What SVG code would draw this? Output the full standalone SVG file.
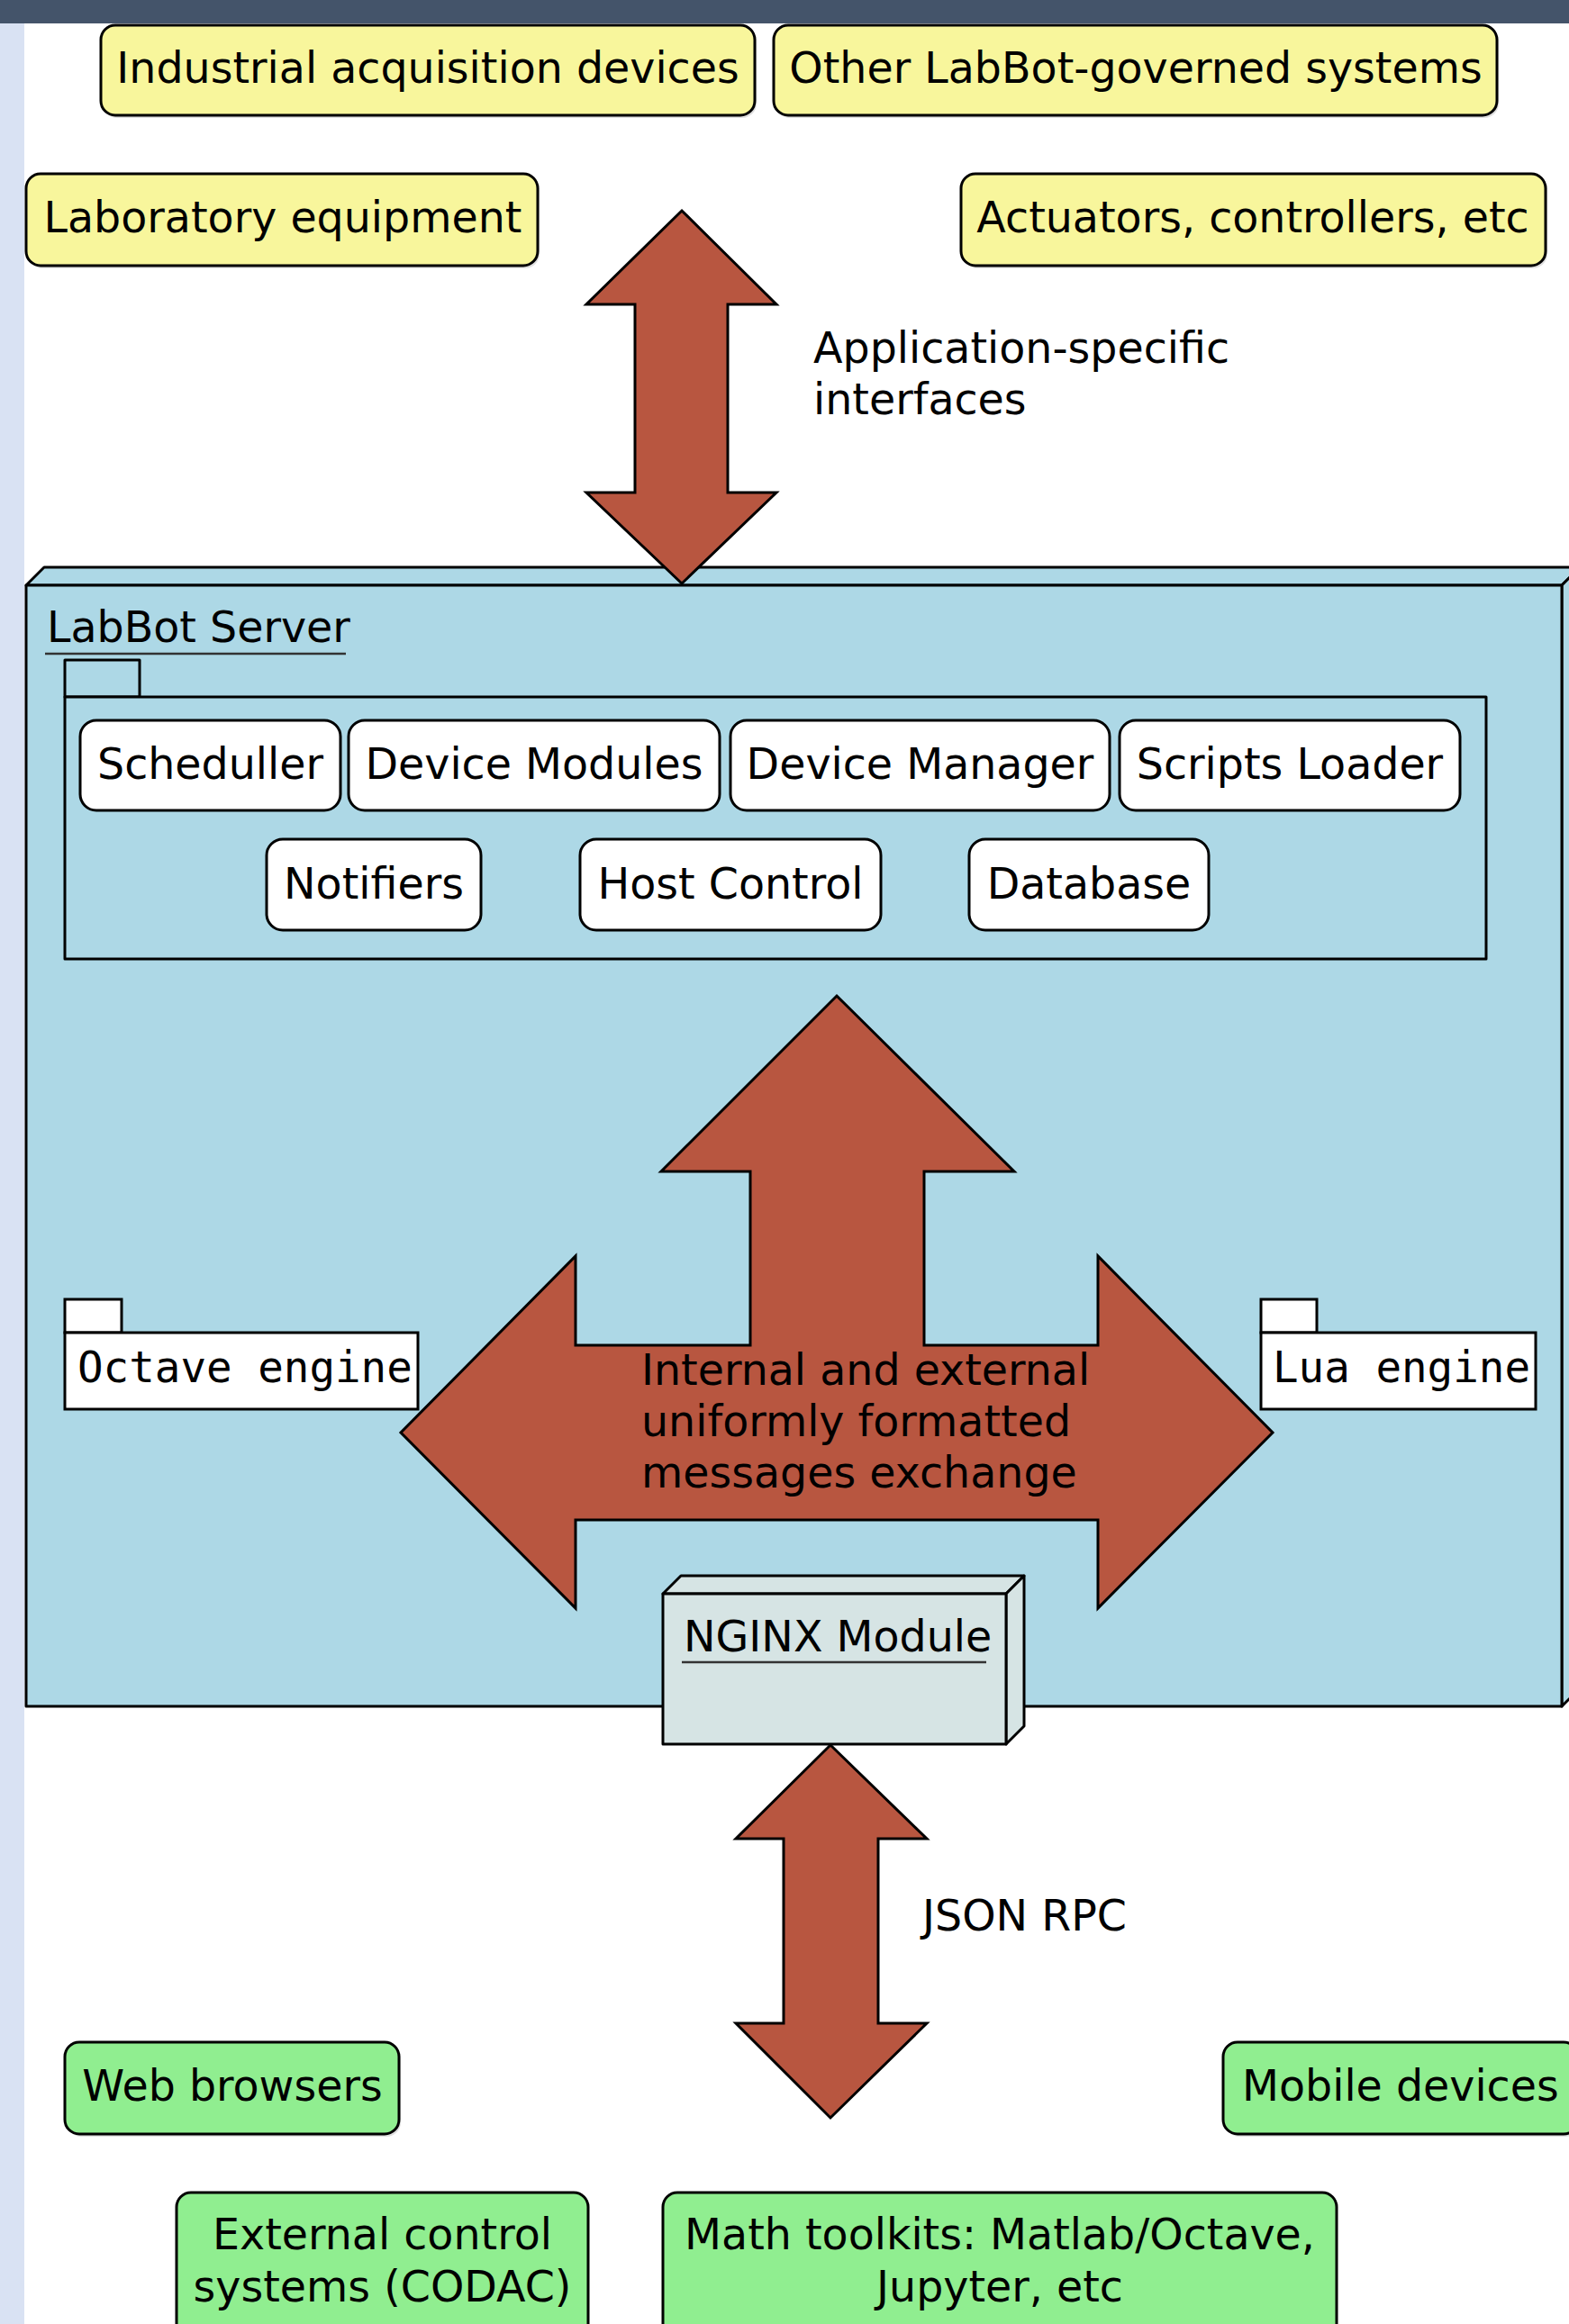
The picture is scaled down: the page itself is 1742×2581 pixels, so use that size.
<svg xmlns="http://www.w3.org/2000/svg" width="1742" height="2581" viewBox="0 0 1742 2581">
<style>
text{font-family:"DejaVu Sans","Liberation Sans",sans-serif;font-size:47.5px;fill:#000}
.mono{font-family:"DejaVu Sans Mono","Liberation Mono",monospace}
.mid{text-anchor:middle}
.ext{fill:#f8f69c;stroke:#000;stroke-width:3}
.cli{fill:#90ee90;stroke:#000;stroke-width:3}
.comp{fill:#fff;stroke:#000;stroke-width:3}
.shadow{fill:#000;opacity:.12}
.srv{fill:#add8e6;stroke:#000;stroke-width:3;stroke-linejoin:round}
.nginx{fill:#d6e4e4;stroke:#000;stroke-width:3;stroke-linejoin:round}
.eng{fill:#fff;stroke:#000;stroke-width:3}
.arrow{fill:#b85640;stroke:#000;stroke-width:3;stroke-linejoin:miter}
.ul{stroke:#333;stroke-width:2.5}
</style>
<rect x="0" y="0" width="1742" height="2581" fill="#fff"/>
<rect x="0" y="26" width="27" height="2555" fill="#d9e2f3"/>
<rect x="0" y="0" width="1742" height="26" fill="#44546a"/>

<g id="industrial">
<rect class="shadow" x="114" y="31" width="726" height="100" rx="16"/>
<rect class="ext" x="112" y="28" width="726" height="100" rx="16"/>
<text class="mid" x="475" y="92">Industrial acquisition devices</text>
</g>
<g id="other-labbot">
<rect class="shadow" x="861" y="31" width="803" height="100" rx="16"/>
<rect class="ext" x="859" y="28" width="803" height="100" rx="16"/>
<text class="mid" x="1261" y="92">Other LabBot-governed systems</text>
</g>
<g id="lab-equipment">
<rect class="shadow" x="31" y="196" width="568" height="102" rx="16"/>
<rect class="ext" x="29" y="193" width="568" height="102" rx="16"/>
<text class="mid" x="314" y="258">Laboratory equipment</text>
</g>
<g id="actuators">
<rect class="shadow" x="1069" y="196" width="649" height="102" rx="16"/>
<rect class="ext" x="1067" y="193" width="649" height="102" rx="16"/>
<text class="mid" x="1391" y="258">Actuators, controllers, etc</text>
</g>

<g id="labbot-server">
<polygon class="srv" points="29,650 49,630 1754,630 1734,650"/>
<polygon class="srv" points="1734,650 1754,630 1754,1875 1734,1895"/>
<rect class="srv" x="29" y="650" width="1705" height="1245"/>
<text x="52" y="713">LabBot Server</text>
<line class="ul" x1="50" y1="726" x2="384" y2="726"/>
</g>

<g id="package">
<rect class="srv" x="72" y="733" width="83" height="41"/>
<rect class="srv" x="72" y="774" width="1578" height="291"/>
</g>

<g id="scheduller">
<rect class="comp" x="89" y="800" width="289" height="100" rx="18"/>
<text class="mid" x="233.5" y="865">Scheduller</text>
</g>
<g id="device-modules">
<rect class="comp" x="387" y="800" width="412" height="100" rx="18"/>
<text class="mid" x="593" y="865">Device Modules</text>
</g>
<g id="device-manager">
<rect class="comp" x="811" y="800" width="421" height="100" rx="18"/>
<text class="mid" x="1021.5" y="865">Device Manager</text>
</g>
<g id="scripts-loader">
<rect class="comp" x="1243" y="800" width="378" height="100" rx="18"/>
<text class="mid" x="1432" y="865">Scripts Loader</text>
</g>
<g id="notifiers">
<rect class="comp" x="296" y="932" width="238" height="101" rx="18"/>
<text class="mid" x="415" y="998">Notifiers</text>
</g>
<g id="host-control">
<rect class="comp" x="644" y="932" width="334" height="101" rx="18"/>
<text class="mid" x="811" y="998">Host Control</text>
</g>
<g id="database">
<rect class="comp" x="1076" y="932" width="266" height="101" rx="18"/>
<text class="mid" x="1209" y="998">Database</text>
</g>

<g id="octave-engine">
<rect class="eng" x="72" y="1443" width="63" height="37"/>
<rect class="eng" x="72" y="1480" width="392" height="85"/>
<text class="mono" x="86" y="1535">Octave engine</text>
</g>
<g id="lua-engine">
<rect class="eng" x="1400" y="1443" width="62" height="37"/>
<rect class="eng" x="1400" y="1480" width="305" height="85"/>
<text class="mono" x="1413" y="1535">Lua engine</text>
</g>

<g id="connectors">
<polygon class="arrow" points="929,1106 1126,1301 1026,1301 1026,1494 1219,1494 1219,1395 1413,1591 1219,1786 1219,1688 639,1688 639,1786 445,1591 639,1395 639,1494 833,1494 833,1301 734,1301"/>
<text x="712" y="1538">Internal and external</text>
<text x="712" y="1595">uniformly formatted</text>
<text x="712" y="1652">messages exchange</text>
<polygon class="arrow" points="757,234 862,338 808,338 808,547 862,547 757,648 651,547 705,547 705,338 651,338"/>
<text x="903" y="403">Application-specific</text>
<text x="903" y="460">interfaces</text>
<polygon class="arrow" points="922,1938 1029,2042 975,2042 975,2247 1029,2247 922,2352 817,2247 870,2247 870,2042 817,2042"/>
<text x="1024" y="2144">JSON RPC</text>
</g>

<g id="nginx-module">
<polygon class="nginx" points="736,1770 756,1750 1137,1750 1117,1770"/>
<polygon class="nginx" points="1117,1770 1137,1750 1137,1917 1117,1937"/>
<rect class="nginx" x="736" y="1770" width="381" height="167"/>
<text x="759" y="1834">NGINX Module</text>
<line class="ul" x1="757" y1="1846" x2="1095" y2="1846"/>
</g>

<g id="web-browsers">
<rect class="shadow" x="74" y="2271" width="371" height="102" rx="16"/>
<rect class="cli" x="72" y="2268" width="371" height="102" rx="16"/>
<text class="mid" x="258" y="2333">Web browsers</text>
</g>
<g id="mobile-devices">
<rect class="shadow" x="1360" y="2271" width="394" height="102" rx="16"/>
<rect class="cli" x="1358" y="2268" width="394" height="102" rx="16"/>
<text x="1379" y="2333">Mobile devices</text>
</g>
<g id="external-control">
<rect class="cli" x="196" y="2435" width="457" height="180" rx="16"/>
<text class="mid" x="424.5" y="2498">External control</text>
<text class="mid" x="424.5" y="2556">systems (CODAC)</text>
</g>
<g id="math-toolkits">
<rect class="cli" x="736" y="2435" width="748" height="180" rx="16"/>
<text class="mid" x="1110" y="2498">Math toolkits: Matlab/Octave,</text>
<text class="mid" x="1110" y="2556">Jupyter, etc</text>
</g>
</svg>
